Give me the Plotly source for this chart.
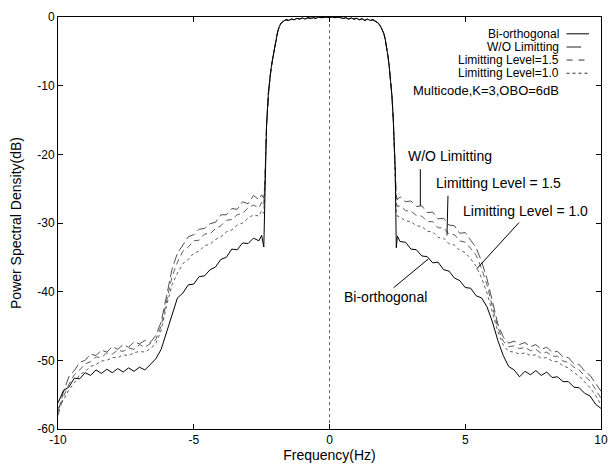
import plotly.graph_objects as go

# ---------------- data ----------------
freq_left = [-10.0, -9.8, -9.6, -9.4, -9.2, -9.0, -8.8, -8.6, -8.4, -8.2, -8.0, -7.8, -7.6, -7.4,
             -7.2, -7.0, -6.8, -6.6, -6.4, -6.2, -6.0, -5.8, -5.6, -5.4, -5.2, -5.0, -4.8, -4.6,
             -4.4, -4.2, -4.0, -3.8, -3.6, -3.4, -3.2, -3.0, -2.8, -2.6, -2.5, -2.42]
freq_lobe = [-2.38, -2.32, -2.25, -2.2, -2.15, -2.1, -2.05, -2.0, -1.95, -1.9, -1.85, -1.8,
             -1.7, -1.6, -1.5, -1.4, -1.3, -1.2, -1.1, -1.0, -0.9, -0.8, -0.7, -0.6, -0.5, -0.4,
             -0.3, -0.2, -0.1, 0.0, 0.1, 0.2, 0.3, 0.4, 0.5, 0.6, 0.7, 0.8, 0.9, 1.0, 1.1, 1.2,
             1.3, 1.4, 1.5, 1.6, 1.7, 1.8, 1.9, 2.0, 2.05, 2.1, 2.15, 2.2, 2.25, 2.3, 2.35, 2.42]
freq_right = [2.46, 2.5, 2.6, 2.8, 3.0, 3.2, 3.4, 3.6, 3.8, 4.0, 4.2, 4.4, 4.6, 4.8, 5.0, 5.2,
              5.4, 5.6, 5.8, 6.0, 6.2, 6.4, 6.6, 6.8, 7.0, 7.2, 7.4, 7.6, 7.8, 8.0, 8.2, 8.4,
              8.6, 8.8, 9.0, 9.2, 9.4, 9.6, 9.8, 10.0]

lobe_db = [-24, -16, -11, -8.8, -7.5, -6.2, -5.0, -3.8, -2.8, -2.0, -1.4, -1.0,
           -0.6, -0.4, -0.5, -0.3, -0.4, -0.2, -0.3, -0.15, -0.3, -0.1, -0.2, -0.1, -0.2, 0.0,
           -0.1, -0.05, 0.0, -0.1, 0.0, -0.1, 0.0, -0.1, -0.2, -0.1, -0.3, -0.15, -0.3, -0.2,
           -0.4, -0.25, -0.5, -0.3, -0.5, -0.4, -0.6, -0.9, -1.5, -2.4, -3.2, -4.3, -5.6, -7.2,
           -9.0, -11.5, -15.0, -22.0]

biorth_left = [-56.2, -54.4, -53.9, -52.6, -52.7, -51.8, -52.2, -51.4, -51.9, -51.3, -51.8, -51.2,
               -51.7, -51.1, -51.6, -51.0, -51.4, -50.6, -49.8, -48.4, -45.8, -43.2, -40.9, -40.2,
               -39.0, -38.9, -37.8, -37.7, -36.8, -36.4, -35.3, -35.0, -33.8, -33.9, -32.9, -33.0,
               -32.2, -32.6, -31.8, -33.5]
biorth_right = [-33.6, -31.9, -32.7, -32.8, -33.8, -33.9, -34.8, -34.9, -35.8, -35.7, -36.8, -37.0,
                -38.0, -38.4, -39.4, -39.5, -40.6, -40.9, -42.2, -44.4, -47.1, -49.3, -50.9, -51.4,
                -52.4, -51.6, -52.1, -51.5, -52.2, -51.7, -52.5, -52.4, -53.1, -53.1, -53.9, -54.0,
                -54.8, -55.2, -56.4, -57.0]

wo_left = [-57.5, -54.6, -52.4, -51.5, -50.3, -50.0, -49.1, -49.3, -48.5, -48.8, -48.0, -48.4,
           -47.7, -48.1, -47.3, -47.6, -47.1, -47.4, -46.4, -44.4, -40.6, -36.7, -34.4, -33.2,
           -32.0, -31.7, -30.9, -30.8, -30.1, -29.9, -28.8, -28.8, -27.9, -28.0, -26.9, -27.2,
           -26.0, -26.6, -25.9, -26.4]
wo_right = [-26.0, -26.6, -26.2, -26.9, -26.8, -27.6, -27.5, -28.5, -28.4, -29.4, -29.3, -30.3,
            -30.4, -31.5, -31.4, -32.5, -33.6, -35.6, -38.1, -41.4, -44.7, -46.6, -47.5, -47.2,
            -47.7, -47.4, -48.0, -47.7, -48.4, -48.1, -48.8, -48.7, -49.5, -49.6, -50.5, -50.6,
            -51.6, -52.2, -53.4, -54.5]

lvl15_left = [-58.0, -55.3, -53.5, -52.1, -51.4, -50.5, -50.2, -49.5, -49.6, -48.9, -49.1, -48.5,
              -48.7, -48.2, -48.4, -47.7, -48.1, -47.6, -47.0, -45.0, -41.3, -37.8, -35.7, -34.1,
              -33.5, -32.6, -32.5, -31.6, -31.6, -30.8, -30.4, -29.6, -29.5, -28.8, -28.6, -27.8,
              -27.4, -27.8, -27.0, -27.5]
lvl15_right = [-27.0, -27.6, -27.5, -28.2, -28.3, -28.9, -29.0, -29.8, -29.8, -30.7, -30.7, -31.6,
               -31.7, -32.6, -32.8, -33.7, -34.7, -36.6, -39.0, -42.2, -45.2, -47.2, -48.0, -47.9,
               -48.3, -48.1, -48.6, -48.4, -49.0, -48.8, -49.4, -49.4, -50.1, -50.3, -51.0, -51.4,
               -52.3, -53.0, -54.2, -55.5]

lvl10_left = [-57.0, -55.8, -54.3, -53.3, -52.1, -51.6, -50.9, -50.6, -50.1, -50.0, -49.6, -49.6,
              -49.2, -49.3, -48.9, -48.7, -48.8, -48.3, -47.6, -45.6, -42.0, -39.0, -37.3, -35.9,
              -35.3, -34.4, -34.1, -33.3, -33.1, -32.4, -32.0, -31.3, -31.0, -30.3, -30.0, -29.3,
              -28.8, -29.0, -28.2, -28.6]
lvl10_right = [-28.6, -29.0, -29.1, -29.7, -29.8, -30.4, -30.5, -31.2, -31.3, -32.1, -32.2, -33.0,
               -33.2, -34.0, -34.3, -35.2, -36.3, -38.0, -40.2, -43.0, -45.8, -47.8, -48.7, -48.8,
               -49.1, -48.9, -49.3, -49.2, -49.7, -49.6, -50.1, -50.2, -50.8, -51.1, -51.8, -52.3,
               -53.1, -54.0, -55.1, -56.5]

series_names = ["Bi-orthogonal", "W/O Limitting", "Limitting Level=1.5", "Limitting Level=1.0"]
x_ticks = [-10, -5, 0, 5, 10]
y_ticks = [0, -10, -20, -30, -40, -50, -60]

# ---------------- figure ----------------
freq = freq_left + freq_lobe + freq_right
curves = {
    "W/O Limitting": (wo_left + lobe_db + wo_right, dict(color="#222", width=0.8, dash="10px,4px")),
    "Limitting Level=1.5": (lvl15_left + lobe_db + lvl15_right, dict(color="#333", width=0.8, dash="6px,4px")),
    "Limitting Level=1.0": (lvl10_left + lobe_db + lvl10_right, dict(color="#333", width=0.8, dash="3px,3px")),
    "Bi-orthogonal": (biorth_left + lobe_db + biorth_right, dict(color="black", width=1)),
}

fig = go.Figure()
for name, (ys, line) in curves.items():
    fig.add_trace(go.Scatter(x=freq, y=ys, mode="lines", name=name, line=line,
                             showlegend=False))

FONT = "Liberation Sans, Arial, Helvetica, sans-serif"

# zero axis (dotted)
fig.add_shape(type="line", x0=0, x1=0, y0=-60, y1=0, xref="x", yref="y",
              line=dict(color="#666", width=1, dash="dot"), layer="below")

# custom legend (text right, sample on right)
leg_rows_y = [-2.45, -4.37, -6.27, -8.19]
leg_styles = [dict(color="black", width=1),
              dict(color="#222", width=1),
              dict(color="#333", width=1, dash="6px,6px"),
              dict(color="#333", width=1, dash="3px,3px")]
leg_x1 = [9.56, 9.27, 9.56, 9.56]
for name, yv, st, x1 in zip(series_names, leg_rows_y, leg_styles, leg_x1):
    fig.add_annotation(x=8.51, y=yv, xref="x", yref="y", text=name, showarrow=False,
                       xanchor="right", yanchor="middle", font=dict(family=FONT, size=12, color="black"))
    fig.add_shape(type="line", x0=8.73, x1=x1, y0=yv, y1=yv, xref="x", yref="y", line=st)

fig.add_annotation(x=8.51, y=-10.65, xref="x", yref="y", text="Multicode,K=3,OBO=6dB",
                   showarrow=False, xanchor="right", yanchor="middle",
                   font=dict(family=FONT, size=13, color="black"))

# callouts
callouts = [
    ("W/O Limitting", 4.436, -20.29, (3.345, -22.16, 3.345, -27.48)),
    ("Limitting Level = 1.5", 6.218, -24.17, (4.364, -26.04, 4.327, -31.8)),
    ("Limitting Level = 1.0", 7.218, -28.2, (6.982, -29.93, 5.418, -36.69)),
    ("Bi-orthogonal", 2.073, -40.72, (2.364, -39.42, 3.636, -35.25)),
]
for txt, tx, ty, (x0, y0, x1, y1) in callouts:
    fig.add_annotation(x=tx, y=ty, xref="x", yref="y", text=txt, showarrow=False,
                       xanchor="center", yanchor="middle",
                       font=dict(family=FONT, size=14, color="black"))
    fig.add_shape(type="line", x0=x0, y0=y0, x1=x1, y1=y1, xref="x", yref="y",
                  line=dict(color="black", width=1))

axis_common = dict(showline=True, linecolor="black", linewidth=1, mirror="ticks",
                   ticks="inside", ticklen=5, tickcolor="black", showgrid=False,
                   zeroline=False, tickfont=dict(family=FONT, size=12, color="black"))

fig.update_xaxes(range=[-10, 10], tickvals=x_ticks, ticktext=[str(v) for v in x_ticks],
                 title=dict(text="Frequency(Hz)", font=dict(family=FONT, size=14, color="black"),
                            standoff=2),
                 **axis_common)
fig.update_yaxes(range=[-60, 0], tickvals=y_ticks, ticktext=[str(v) for v in y_ticks],
                 title=dict(text="Power Spectral Density(dB)",
                            font=dict(family=FONT, size=14, color="black"), standoff=12),
                 **axis_common)

fig.update_layout(width=616, height=467, margin=dict(l=58, r=8, t=17, b=33),
                  paper_bgcolor="white", plot_bgcolor="white", showlegend=False,
                  font=dict(family=FONT, color="black"))

fig.write_html("out.html", config={"displayModeBar": False},
               post_script="document.body.style.margin='0';document.body.style.overflow='hidden';")
